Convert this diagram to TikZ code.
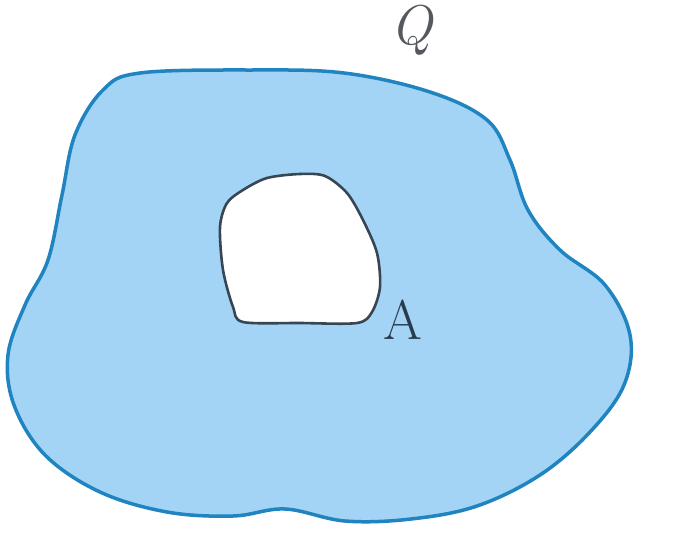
\documentclass[tikz,border=0pt]{standalone}
\usepackage{fontspec}
\definecolor{regionfill}{RGB}{163,212,245}
\definecolor{regionline}{RGB}{32,132,192}
\definecolor{holeline}{RGB}{55,70,82}
\definecolor{labelgrey}{RGB}{85,88,92}
\definecolor{labelA}{RGB}{40,60,80}
\tikzset{
  outerregion/.style={fill=regionfill,draw=regionline,line width=3.5pt},
  holeregion/.style={fill=white,draw=holeline,line width=2.6pt},
  biglabel/.style={inner sep=0pt,font=\fontsize{56}{60}\selectfont}
}
\begin{document}
\begin{tikzpicture}[x=1pt,y=-1pt]
\useasboundingbox (0,0) rectangle (689,549);
\draw[outerregion] plot[smooth cycle,tension=0.6] coordinates {
 (140,73) (250,70) (344,73) (430,92) (487,120) (510,160) (528,210)
 (560,250) (605,285) (630,335) (624,385) (590,432) (540,475) (477,506)
 (411,519) (345,521) (285,509) (233,516) (167,512) (100,492) (45,455)
 (14,405) (8,355) (25,305) (48,260) (62,195) (75,135) (103,90)};
\draw[holeregion] plot[smooth cycle,tension=0.5] coordinates {
 (267,178) (300,174) (325,176) (347,193) (363,220) (377,253) (380,287)
 (372,312) (357,323) (300,323) (243,322) (233,307) (223,270) (220,227)
 (227,203) (243,190)};
\node[biglabel,text=labelgrey] (Q) at (411,30) {\itshape Q};
\node[biglabel,text=labelA] (A) at (403,320) {A};
\end{tikzpicture}
\end{document}
